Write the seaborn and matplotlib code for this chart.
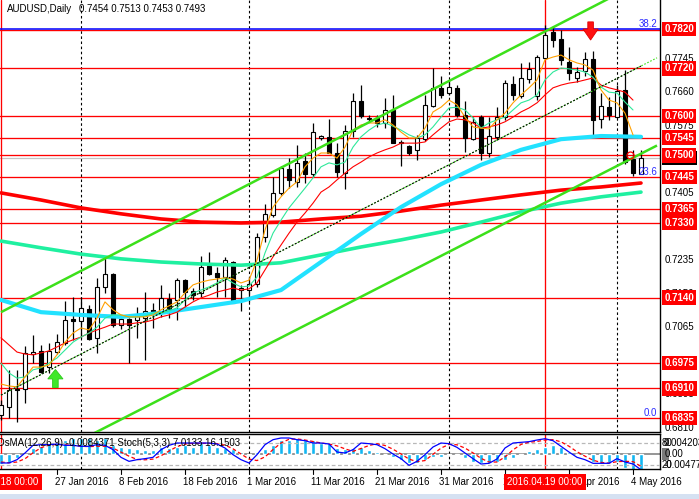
import numpy as np
import matplotlib
matplotlib.use("Agg")
import matplotlib.pyplot as plt
import matplotlib.transforms as mtransforms
from matplotlib.patches import Rectangle
import seaborn as sns

# ---------------- values ----------------
symbol_title = "AUDUSD,Daily"
last_ohlc_text = "0.7454 0.7513 0.7453 0.7493"
osc_title = "OsMA(12,26,9) -0.0084371 Stoch(5,3,3) 7.0133 16.1503"

opens = [0.6843, 0.6863, 0.6909, 0.6909, 0.6997, 0.7005, 0.6964, 0.7002, 0.7025, 0.7086,
         0.7081, 0.7111, 0.7038, 0.7167, 0.7200, 0.7071, 0.7086, 0.7083, 0.7088, 0.7109,
         0.7103, 0.7136, 0.7134, 0.7184, 0.7157, 0.7152, 0.7220, 0.7202, 0.7192, 0.7230,
         0.7159, 0.7159, 0.7174, 0.7293, 0.7349, 0.7405, 0.7466, 0.7433, 0.7486, 0.7453,
         0.7544, 0.7547, 0.7506, 0.7455, 0.7562, 0.7638, 0.7595, 0.7595, 0.7582, 0.7615,
         0.7534, 0.7524, 0.7514, 0.7541, 0.7625, 0.7671, 0.7658, 0.7671, 0.7602, 0.7541,
         0.7597, 0.7506, 0.7547, 0.7597, 0.7681, 0.7650, 0.7693, 0.7650, 0.7747, 0.7812,
         0.7795, 0.7736, 0.7696, 0.7714, 0.7744, 0.7592, 0.7622, 0.7597, 0.7666, 0.7491,
         0.7454]
highs = [0.6881, 0.6957, 0.6957, 0.7017, 0.7045, 0.7020, 0.7025, 0.7048, 0.7131, 0.7141,
         0.7141, 0.7121, 0.7190, 0.7240, 0.7202, 0.7096, 0.7088, 0.7116, 0.7154, 0.7126,
         0.7172, 0.7152, 0.7190, 0.7187, 0.7164, 0.7245, 0.7255, 0.7217, 0.7243, 0.7233,
         0.7172, 0.7192, 0.7303, 0.7377, 0.7445, 0.7473, 0.7493, 0.7526, 0.7506, 0.7582,
         0.7552, 0.7592, 0.7531, 0.7577, 0.7658, 0.7678, 0.7602, 0.7602, 0.7645, 0.7653,
         0.7539, 0.7526, 0.7552, 0.7653, 0.7721, 0.7700, 0.7691, 0.7678, 0.7638, 0.7597,
         0.7602, 0.7597, 0.7622, 0.7691, 0.7701, 0.7734, 0.7736, 0.7754, 0.7830, 0.7828,
         0.7817, 0.7774, 0.7724, 0.7762, 0.7764, 0.7658, 0.7648, 0.7678, 0.7716, 0.7514,
         0.7513]
lows = [0.6830, 0.6835, 0.6825, 0.6873, 0.6974, 0.6949, 0.6949, 0.6997, 0.7020, 0.7033,
        0.7038, 0.7033, 0.7000, 0.7152, 0.7065, 0.7060, 0.6974, 0.7038, 0.6982, 0.7063,
        0.7091, 0.7088, 0.7083, 0.7116, 0.7134, 0.7141, 0.7197, 0.7141, 0.7141, 0.7126,
        0.7106, 0.7129, 0.7167, 0.7281, 0.7344, 0.7400, 0.7417, 0.7420, 0.7430, 0.7445,
        0.7539, 0.7506, 0.7445, 0.7415, 0.7547, 0.7595, 0.7588, 0.7572, 0.7569, 0.7531,
        0.7473, 0.7501, 0.7488, 0.7536, 0.7622, 0.7645, 0.7653, 0.7597, 0.7509, 0.7539,
        0.7488, 0.7496, 0.7539, 0.7590, 0.7640, 0.7645, 0.7683, 0.7640, 0.7744, 0.7774,
        0.7729, 0.7691, 0.7686, 0.7701, 0.7549, 0.7569, 0.7590, 0.7595, 0.7478, 0.7448,
        0.7453]
closes = [0.6868, 0.6906, 0.6906, 0.7000, 0.7002, 0.6951, 0.7005, 0.7027, 0.7083, 0.7081,
          0.7114, 0.7035, 0.7167, 0.7200, 0.7071, 0.7086, 0.7071, 0.7093, 0.7106, 0.7101,
          0.7139, 0.7111, 0.7184, 0.7154, 0.7146, 0.7217, 0.7200, 0.7192, 0.7235, 0.7126,
          0.7164, 0.7174, 0.7293, 0.7352, 0.7405, 0.7468, 0.7438, 0.7481, 0.7453, 0.7559,
          0.7549, 0.7506, 0.7458, 0.7562, 0.7638, 0.7600, 0.7592, 0.7582, 0.7615, 0.7531,
          0.7531, 0.7506, 0.7544, 0.7628, 0.7671, 0.7653, 0.7673, 0.7602, 0.7544, 0.7585,
          0.7506, 0.7549, 0.7597, 0.7683, 0.7653, 0.7696, 0.7719, 0.7749, 0.7805, 0.7792,
          0.7742, 0.7709, 0.7711, 0.7744, 0.7590, 0.7625, 0.7602, 0.7663, 0.7483, 0.7455,
          0.7493]

# thin moving averages (bars 0..79)
ma_orange = [0.6921, 0.6916, 0.6914, 0.6939, 0.6964, 0.6964, 0.6969, 0.6995, 0.7027, 0.7050,
             0.7063, 0.7058, 0.7088, 0.7129, 0.7109, 0.7096, 0.7091, 0.7091, 0.7091, 0.7096,
             0.7109, 0.7119, 0.7129, 0.7152, 0.7172, 0.7179, 0.7184, 0.7187, 0.7190, 0.7187,
             0.7177, 0.7184, 0.7235, 0.7311, 0.7369, 0.7395, 0.7417, 0.7433, 0.7471, 0.7493,
             0.7506, 0.7506, 0.7493, 0.7521, 0.7564, 0.7577, 0.7582, 0.7582, 0.7590, 0.7577,
             0.7559, 0.7544, 0.7544, 0.7569, 0.7610, 0.7622, 0.7640, 0.7628, 0.7597, 0.7572,
             0.7569, 0.7567, 0.7590, 0.7607, 0.7633, 0.7653, 0.7671, 0.7691, 0.7742, 0.7749,
             0.7754, 0.7742, 0.7734, 0.7729, 0.7716, 0.7666, 0.7640, 0.7633, 0.7607, 0.7552]
ma_green = [0.6974, 0.6949, 0.6936, 0.6939, 0.6957, 0.6962, 0.6974, 0.6987, 0.7007, 0.7027,
            0.7040, 0.7050, 0.7065, 0.7088, 0.7096, 0.7096, 0.7091, 0.7091, 0.7093, 0.7101,
            0.7101, 0.7106, 0.7114, 0.7134, 0.7152, 0.7159, 0.7167, 0.7177, 0.7190, 0.7177,
            0.7167, 0.7169, 0.7192, 0.7253, 0.7303, 0.7336, 0.7367, 0.7392, 0.7417, 0.7443,
            0.7471, 0.7481, 0.7476, 0.7483, 0.7521, 0.7547, 0.7564, 0.7577, 0.7582, 0.7574,
            0.7564, 0.7552, 0.7544, 0.7552, 0.7572, 0.7597, 0.7620, 0.7622, 0.7615, 0.7595,
            0.7569, 0.7582, 0.7590, 0.7597, 0.7615, 0.7633, 0.7640, 0.7653, 0.7691, 0.7711,
            0.7721, 0.7719, 0.7716, 0.7711, 0.7698, 0.7673, 0.7660, 0.7658, 0.7635, 0.7615]
ma_red = [0.7038, 0.7020, 0.7002, 0.6997, 0.6995, 0.7000, 0.7005, 0.7015, 0.7025, 0.7033,
          0.7040, 0.7050, 0.7058, 0.7065, 0.7073, 0.7073, 0.7073, 0.7076, 0.7078, 0.7083,
          0.7091, 0.7096, 0.7103, 0.7116, 0.7129, 0.7139, 0.7146, 0.7154, 0.7159, 0.7164,
          0.7159, 0.7162, 0.7177, 0.7210, 0.7243, 0.7273, 0.7303, 0.7331, 0.7354, 0.7379,
          0.7407, 0.7420, 0.7438, 0.7455, 0.7471, 0.7483, 0.7496, 0.7506, 0.7514, 0.7521,
          0.7531, 0.7531, 0.7531, 0.7534, 0.7552, 0.7569, 0.7585, 0.7592, 0.7590, 0.7582,
          0.7569, 0.7572, 0.7577, 0.7585, 0.7597, 0.7610, 0.7620, 0.7633, 0.7653, 0.7671,
          0.7678, 0.7683, 0.7686, 0.7691, 0.7696, 0.7678, 0.7671, 0.7666, 0.7660, 0.7640]

# thick moving averages, read every 5 bars
thick_bars = [0, 5, 10, 15, 20, 25, 30, 35, 40, 45, 50, 55, 60, 65, 70, 75, 80]
ma_cyan = [0.7134, 0.7103, 0.7096, 0.7091, 0.7101, 0.7116, 0.7131, 0.7159, 0.7230, 0.7301,
           0.7369, 0.7427, 0.7476, 0.7514, 0.7541, 0.7549, 0.7547]
ma_spring = [0.7283, 0.7266, 0.7250, 0.7238, 0.7230, 0.7225, 0.7222, 0.7228, 0.7248, 0.7268,
             0.7286, 0.7306, 0.7331, 0.7357, 0.7379, 0.7395, 0.7407]
ma_thick_red = [0.7405, 0.7387, 0.7367, 0.7352, 0.7339, 0.7331, 0.7329, 0.7331, 0.7339, 0.7346,
                0.7359, 0.7374, 0.7387, 0.7400, 0.7412, 0.7420, 0.7430]

# channel lines (bar, price) endpoints
channel_bars = [0, 82]
channel_upper = [0.7103, 0.7960]
channel_mid = [0.6893, 0.7747]
channel_lower = [0.6676, 0.7525]

levels = [0.7720, 0.7600, 0.7545, 0.7500, 0.7445, 0.7365, 0.7330, 0.7140, 0.6975, 0.6910, 0.6835]
fib_top = 0.7820
bid = 0.7493
fib_texts = [("38.2", 0.7820), ("23.6", 0.7445), ("0.0", 0.6835)]
price_ticks = [0.6810, 0.6895, 0.6980, 0.7065, 0.7150, 0.7235, 0.7320, 0.7405, 0.7490,
               0.7575, 0.7660, 0.7745]

# oscillator (OsMA in 1e-3 units, stochastic 0..100)
osma = [-2.73, -2.46, -1.14, -0.26, 1.50, 2.20, 2.82, 3.26, 3.70, 4.14,
        4.14, 4.14, 3.70, 4.31, 2.38, 1.94, 1.50, 1.32, 1.06, 1.06,
        1.94, 1.50, 1.94, 2.38, 1.94, 2.82, 2.38, 1.94, 1.50, 1.32,
        0.62, -0.26, 0.62, 1.32, 2.38, 3.70, 3.70, 4.14, 3.70, 3.70,
        2.82, 2.82, 1.50, 1.23, 1.50, 1.94, 1.06, 0.44, 0.05, -0.70,
        -1.58, -2.46, -2.46, -1.58, -0.70, -0.70, -0.26, -0.26, -1.14, -2.02,
        -2.46, -2.46, -2.02, -1.58, -1.14, -0.26, 0.79, 1.23, 1.94, 2.38,
        1.76, 0.62, -0.09, -0.26, -2.02, -2.46, -2.46, -2.02, -3.78, -4.49,
        -4.66]
stoch_main = [25.4, 25.4, 34.4, 52.6, 73.5, 75.3, 75.3, 77.1, 73.5, 73.5,
              70.8, 70.8, 75.3, 73.5, 61.7, 40.8, 29.9, 34.4, 37.2, 40.8,
              61.7, 73.5, 79.8, 79.8, 79.8, 79.8, 79.8, 77.1, 66.2, 48.1,
              34.4, 25.4, 48.1, 75.3, 88.9, 93.5, 93.5, 88.9, 86.2, 79.8,
              79.8, 77.1, 55.3, 52.6, 61.7, 79.8, 78.0, 75.3, 64.4, 49.9,
              37.2, 19.0, 29.9, 48.1, 68.9, 79.8, 78.0, 68.0, 52.6, 37.2,
              22.6, 24.5, 36.3, 66.2, 79.8, 81.7, 83.5, 88.0, 91.6, 86.2,
              70.8, 55.3, 40.8, 34.4, 24.5, 24.5, 24.5, 37.2, 28.1, 22.6,
              7.0]
stoch_signal = [28, 26, 28, 37, 53, 67, 74, 76, 75, 73,
                71, 70, 71, 71, 66, 55, 44, 35, 34, 36,
                45, 58, 70, 77, 79, 79, 79, 78, 74, 64,
                50, 36, 32, 42, 62, 80, 90, 91, 88, 84,
                80, 77, 72, 64, 57, 65, 73, 78, 73, 63,
                50, 36, 29, 32, 49, 66, 76, 75, 66, 53,
                38, 28, 28, 42, 61, 76, 82, 84, 88, 89,
                83, 71, 56, 44, 33, 27, 25, 29, 30, 29,
                16.2]
osc_right_labels = [("80", "0.004203", 80), ("20", "-0.00477", 20)]

date_ticks = [7, 15, 23, 31, 39, 47, 55, 63, 71, 79]
date_labels = ["27 Jan 2016", "8 Feb 2016", "18 Feb 2016", "1 Mar 2016", "11 Mar 2016",
               "21 Mar 2016", "31 Mar 2016", "12 Apr 2016", "22 Apr 2016", "4 May 2016"]
month_starts = [10, 31, 56, 77]
cursor_bars = [0, 68]
cursor_labels = ["2016.01.18 00:00", "2016.04.19 00:00"]
up_arrow = (6.8, 0.6912, 0.6958)      # bar, base, tip
down_arrow = (73.7, 0.7838, 0.7792)   # bar, base, tip
ring_mark = (78.6, 0.7501)

# ---------------- figure ----------------
sns.set_theme(style="white")
plt.rcParams["font.family"] = ["Liberation Sans", "DejaVu Sans"]
plt.rcParams["axes.linewidth"] = 1.0

W, H = 699, 499
fig = plt.figure(figsize=(W / 100, H / 100), dpi=100)
fig.patch.set_facecolor("white")


def fx(px):
    return px / W


def fy(py):
    return 1 - py / H


ax = fig.add_axes([0, fy(432), fx(660), 432 / H])
ax2 = fig.add_axes([0, fy(469), fx(660), 35 / H])
ax2s = ax2.twinx()

xlim = (-0.125, 82.375)
for a in (ax, ax2, ax2s):
    a.set_xlim(*xlim)
    a.set_xticks([])
    a.set_yticks([])
    a.set_facecolor("white")
ax2s.patch.set_visible(False)
ax.set_ylim(0.67996, 0.78934)
ax2.set_ylim(-3.96, 5.28)
ax2s.set_ylim(9.0, 104.4)

for a, vis in ((ax, {"top": False, "left": False, "right": True, "bottom": True}),
               (ax2, {"top": True, "left": False, "right": True, "bottom": True}),
               (ax2s, {"top": False, "left": False, "right": False, "bottom": False})):
    for k, v in vis.items():
        a.spines[k].set_visible(v)
        a.spines[k].set_color("black")
        a.spines[k].set_linewidth(1.0)

idx = np.arange(len(opens))
o = np.array(opens); h = np.array(highs); l = np.array(lows); c = np.array(closes)

# horizontal levels
for lv in levels:
    ax.axhline(lv, color="#ff0000", lw=0.95, zorder=2)
ax.axhline(bid, color="#c4c4c4", lw=0.9, zorder=1.5)
red_off = mtransforms.offset_copy(ax.transData, fig=fig, x=0, y=-1.3, units="dots")
ax.plot(list(xlim), [fib_top, fib_top], color="#ff0000", lw=1.0, transform=red_off, zorder=2)
ax.axhline(fib_top, color="#0000ff", lw=1.1, zorder=2.1)

# vertical separators and cursor lines
for a in (ax, ax2):
    for b in month_starts:
        a.axvline(b, color="black", lw=0.8, ls=(0, (2.3, 2.3)), zorder=1.8)
    for b in cursor_bars:
        a.axvline(b, color="#ff0000", lw=0.95, zorder=1.9)

# channel
ax.plot(channel_bars, channel_upper, color="#3ce01a", lw=1.8, zorder=7, solid_capstyle="butt")
ax.plot(channel_bars, channel_lower, color="#3ce01a", lw=1.8, zorder=7, solid_capstyle="butt")
ax.plot(channel_bars, channel_mid, color="#3ce01a", lw=0.8, ls=(0, (1.5, 1.5)), zorder=7)
mid_end = [channel_mid[0], channel_mid[0] + (channel_mid[1] - channel_mid[0]) * 80 / 82]
ax.plot([0, 80], mid_end, color="black", lw=0.8, ls=(0, (1.6, 1.6)), zorder=7.1)

# thick MAs
sns.lineplot(x=thick_bars, y=ma_spring, ax=ax, color="#1ff0a0", lw=2.6, zorder=5, legend=False)
sns.lineplot(x=thick_bars, y=ma_thick_red, ax=ax, color="#ff0000", lw=2.6, zorder=5, legend=False)
sns.lineplot(x=thick_bars, y=ma_cyan, ax=ax, color="#22e2ff", lw=3.0, zorder=5, legend=False)

# candles
bull = c >= o
body_low = np.minimum(o, c)
body_h = np.maximum(np.abs(c - o), 0.00008)
ax.vlines(idx, l, h, color="black", lw=0.9, zorder=3)
ax.bar(idx, body_h, bottom=body_low, width=0.62,
       color=np.where(bull, "white", "black"), edgecolor="black", linewidth=0.8, zorder=4)

# thin MAs
ti = idx[:len(ma_orange)]
sns.lineplot(x=ti, y=ma_red, ax=ax, color="#ff0000", lw=0.8, zorder=6, legend=False)
sns.lineplot(x=ti, y=ma_green, ax=ax, color="#2ee89a", lw=0.8, zorder=6, legend=False)
sns.lineplot(x=ti, y=ma_orange, ax=ax, color="#ffa000", lw=0.8, zorder=6, legend=False)
ax.set_xlabel(""); ax.set_ylabel("")

# arrows / marks
b, base, tip = up_arrow
ax.arrow(b, base, 0, tip - base, width=0.7, head_width=1.9, head_length=0.0024,
         length_includes_head=True, fc="#3ee82a", ec="#2cc81c", lw=0.6, zorder=9)
b, base, tip = down_arrow
ax.arrow(b, base, 0, tip - base, width=0.7, head_width=1.9, head_length=0.0028,
         length_includes_head=True, fc="#ff1010", ec="#e00000", lw=0.6, zorder=9)
ax.plot([ring_mark[0]], [ring_mark[1]], marker="o", ms=5, mfc="none", mec="#ff0000", mew=0.9, zorder=9)

# fib texts
for t, lv in fib_texts:
    ax.text(82.0, lv, t, ha="right", va="bottom", fontsize=7, color="#2b2bff", zorder=10)

# header
fig.text(fx(7), fy(9), symbol_title, ha="left", va="center", fontsize=7, color="black")
fig.text(fx(79), fy(9), last_ohlc_text, ha="left", va="center", fontsize=7, color="black")

# right price axis
tr_right = mtransforms.blended_transform_factory(fig.transFigure, ax.transData)
for p in price_ticks:
    ax.text(fx(665), p, f"{p:.4f}", transform=tr_right, ha="left", va="center",
            fontsize=7, color="black", clip_on=False, zorder=20)
ax.text(fx(664.5), bid, f"{bid:.4f}", transform=tr_right, ha="left", va="center",
        fontsize=7, color="white", fontweight="bold", clip_on=False, zorder=21,
        bbox=dict(boxstyle="square,pad=0.22", fc="black", ec="none"))
for lv in [fib_top] + levels:
    ax.text(fx(664.5), lv, f"{lv:.4f}", transform=tr_right, ha="left", va="center",
            fontsize=7, color="white", fontweight="bold", clip_on=False, zorder=22,
            bbox=dict(boxstyle="square,pad=0.22", fc="#ff0000", ec="none"))

# oscillator
ax2.axhline(0, color="#8c8c8c", lw=1.3, zorder=1.7)
ax2.bar(idx, osma, width=0.42, color="#12b6f2", zorder=2)
ax2s.axhline(80, color="#b8b8b8", lw=0.9, ls=(0, (3, 2)), zorder=1)
ax2s.axhline(20, color="#b8b8b8", lw=0.9, ls=(0, (3, 2)), zorder=1)
sns.lineplot(x=idx, y=stoch_signal, ax=ax2s, color="#ff0000", lw=0.9, linestyle=(0, (3, 2)),
             zorder=3, legend=False)
sns.lineplot(x=idx, y=stoch_main, ax=ax2s, color="#0000ff", lw=0.9, zorder=4, legend=False)
for a in (ax2, ax2s):
    a.set_xlabel(""); a.set_ylabel(""); a.set_yticks([])
ax2s.text(-0.45, 0.74, osc_title, transform=mtransforms.blended_transform_factory(ax2s.transData, ax2s.transAxes),
          ha="left", va="center", fontsize=7, color="black", zorder=5)

tr_osc = mtransforms.blended_transform_factory(fig.transFigure, ax2s.transData)
for lvl_txt, val_txt, s in osc_right_labels:
    ax2s.text(fx(662), s, lvl_txt, transform=tr_osc, ha="left", va="center", fontsize=7,
              color="black", clip_on=False)
    ax2s.text(fx(664), s, val_txt, transform=tr_osc, ha="left", va="center", fontsize=7,
              color="black", clip_on=False)
fig.patches.append(Rectangle((fx(662), fy(460)), fx(6.5), 12 / H, transform=fig.transFigure,
                             fc="#7a7a7a", ec="none"))
fig.text(fx(665), fy(454), "0.00", ha="left", va="center", fontsize=7, color="black")

# date axis
tr_bottom = mtransforms.blended_transform_factory(ax.transData, fig.transFigure)
for b, lab in zip(date_ticks, date_labels):
    ax.text(b - 0.25, fy(482), lab, transform=tr_bottom, ha="left", va="center",
            fontsize=7, color="black", clip_on=False, zorder=20)
    ax.plot([b, b], [fy(469), fy(474)], transform=tr_bottom, color="black", lw=0.8,
            clip_on=False)
for b, lab in zip(cursor_bars, cursor_labels):
    ax.text(b, fy(482), lab, transform=tr_bottom, ha="center", va="center", fontsize=7,
            color="white", clip_on=False, zorder=25,
            bbox=dict(boxstyle="square,pad=0.3", fc="#ff0000", ec="none"))

# bottom strip
fig.patches.append(Rectangle((0, 0), 1, 5 / H, transform=fig.transFigure, fc="#d5e1f2", ec="none"))

fig.savefig("out.png", dpi=100)
